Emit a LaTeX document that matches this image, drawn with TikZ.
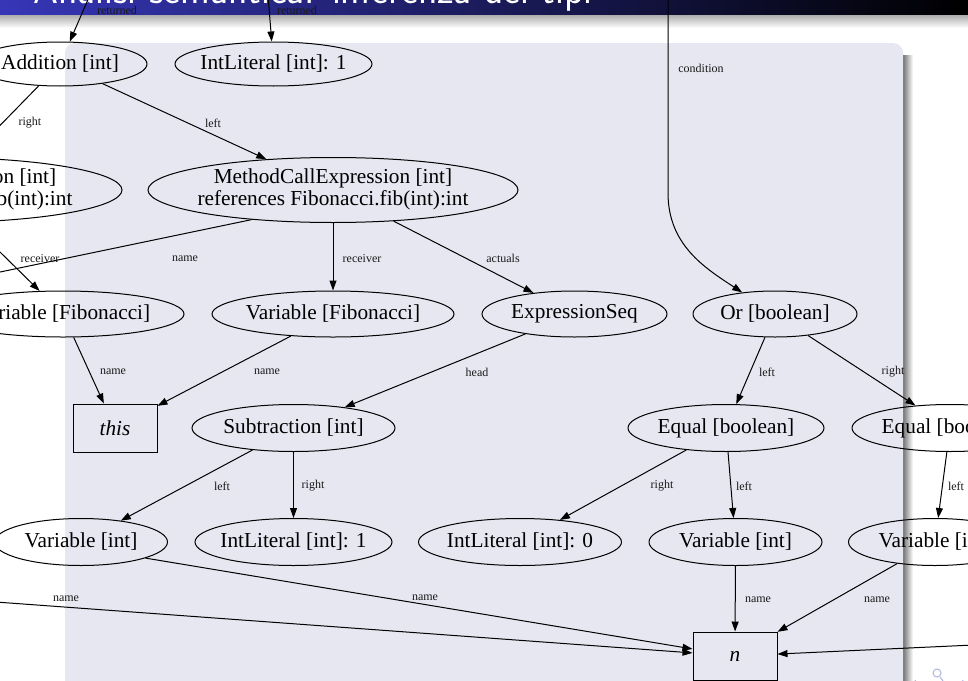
\documentclass[tikz,border=0pt]{standalone}
\usepackage{fontspec}
\setmainfont{Liberation Serif}
\usetikzlibrary{arrows.meta,shapes.geometric}

\definecolor{boxbg}{RGB}{231,231,242}
\definecolor{barblue}{RGB}{54,54,184}
\definecolor{navc}{RGB}{175,180,222}
\newcommand{\gvnodefont}{\fontsize{21.3}{22.5}\selectfont}
\newcommand{\gvlabfont}{\fontsize{12}{13}\selectfont}
\newcommand{\zt}[1]{\makebox[0pt]{#1}}
\newcommand{\mcetext}{\begin{tabular}{@{}c@{}}MethodCallExpression [int]\\references Fibonacci.fib(int):int\end{tabular}}

\begin{document}
\begin{tikzpicture}[x=1pt,y=-1pt,
  ell/.style={ellipse, draw, line width=1pt, inner sep=0pt, font=\gvnodefont},
  rbox/.style={rectangle, draw, line width=1pt, inner sep=0pt, minimum width=84pt, minimum height=48pt, font=\gvnodefont\itshape},
  edge/.style={draw, line width=1pt, -{Triangle[length=10pt,width=7pt]}},
  plain/.style={draw, line width=1pt},
  elab/.style={font=\gvlabfont, inner sep=0pt, text=black!90}
]
\useasboundingbox (0,0) rectangle (968,680);
\fill[white] (0,0) rectangle (968,680);

% slide decoration
\shade[left color=barblue, right color=black] (0,-1) rectangle (968,15);
\shade[top color=black!32, bottom color=white] (0,15) rectangle (968,28);
\shade[left color=black!55, right color=white] (903,55) rectangle (913,700);
\fill[boxbg, rounded corners=10pt] (65,43) rectangle (903,700);
\begin{scope}
  \clip (0,0) rectangle (968,15);
  \node[anchor=base west, text=white, font=\sffamily\fontsize{40}{40}\selectfont, inner sep=0pt] (title) at (33,3.5) {Analisi semantica: inferenza dei tipi};
\end{scope}

% navigation symbols
\begin{scope}[navc, line width=1pt]
  \draw (915,680) arc[start angle=180, end angle=20, radius=4.5];
  \draw (937,673) circle[radius=4];
  \draw (940,677) -- (943,681);
  \draw (963,680) arc[start angle=0, end angle=160, radius=4.5];
\end{scope}

% nodes
\node[ell, minimum width=174pt, minimum height=44pt] (add) at (60,64) {\zt{Addition [int]}};
\node[ell, minimum width=197pt, minimum height=44pt] (ilT) at (273.5,64) {\zt{IntLiteral [int]: 1}};
\node[ell, minimum width=370pt, minimum height=65pt] (mceL) at (-63,190) {\zt{\mcetext}};
\node[ell, minimum width=370pt, minimum height=65pt] (mceR) at (333,190) {\zt{\mcetext}};
\node[ell, minimum width=242pt, minimum height=46pt] (vfL) at (63,314) {\zt{Variable [Fibonacci]}};
\node[ell, minimum width=242pt, minimum height=46pt] (vfM) at (333,314) {\zt{Variable [Fibonacci]}};
\node[ell, minimum width=185pt, minimum height=46pt] (exps) at (574.5,314) {\zt{ExpressionSeq}};
\node[ell, minimum width=164pt, minimum height=46pt] (or) at (775,314) {\zt{Or [boolean]}};
\node[rbox] (this) at (115,428) {\zt{this}};
\node[ell, minimum width=203pt, minimum height=47pt] (sub) at (293.5,428) {\zt{Subtraction [int]}};
\node[ell, minimum width=196pt, minimum height=47pt] (eqM) at (726,428) {\zt{Equal [boolean]}};
\node[ell, minimum width=196pt, minimum height=47pt] (eqR) at (950,428) {\zt{Equal [boolean]}};
\node[ell, minimum width=173pt, minimum height=47pt] (viL) at (81,542) {\zt{Variable [int]}};
\node[ell, minimum width=197pt, minimum height=47pt] (ilL) at (293.5,542) {\zt{IntLiteral [int]: 1}};
\node[ell, minimum width=203pt, minimum height=47pt] (il0) at (520,542) {\zt{IntLiteral [int]: 0}};
\node[ell, minimum width=173pt, minimum height=47pt] (viM) at (735.5,542) {\zt{Variable [int]}};
\node[ell, minimum width=173pt, minimum height=47pt] (viR) at (935,542) {\zt{Variable [int]}};
\node[rbox] (n) at (735,656) {\zt{n}};

% free ends
\coordinate (retA) at (90,-5);
\coordinate (retB) at (268,-5);
\coordinate (condT) at (668,-5);
\coordinate (condB) at (668,193);
\coordinate (nameOff) at (-120,297);
\coordinate (leftOff) at (-100,595);
\coordinate (rightOff) at (1060,641);

% connectors
\draw[edge] (retA) -- (add);
\draw[edge] (retB) -- (ilT);
\draw[edge] (condT) -- (condB) .. controls (668,245) and (705,268) .. (or);
\draw[edge] (add) -- (mceL);
\draw[edge] (add) -- (mceR);
\draw[edge] (mceL) -- (vfL);
\draw[plain] (mceR.200) -- (nameOff);
\draw[edge] (mceR) -- (vfM);
\draw[edge] (mceR) -- (exps);
\draw[edge] (vfL) -- (this);
\draw[edge] (vfM) -- (this);
\draw[edge] (exps) -- (sub);
\draw[edge] (sub) -- (viL);
\draw[edge] (sub) -- (ilL);
\draw[edge] (or) -- (eqM);
\draw[edge] (or) -- (eqR);
\draw[edge] (eqM) -- (il0);
\draw[edge] (eqM) -- (viM);
\draw[edge] (eqR) -- (viR);
\draw[edge] (viL.-14) -- (n);
\draw[edge] (leftOff) -- (n);
\draw[edge] (viM) -- (n);
\draw[edge] (viR) -- (n);
\draw[edge] (rightOff) -- (n);

% edge labels
\node[elab] (l1) at (117,10) {returned};
\node[elab] (l2) at (297,10) {returned};
\node[elab] (l3) at (701,68) {condition};
\node[elab] (l4) at (30,123) {right};
\node[elab] (l5) at (213,123) {left};
\node[elab] (l6) at (40,259) {receiver};
\node[elab] (l7) at (185,259) {name};
\node[elab] (l8) at (362,259) {receiver};
\node[elab] (l9) at (503,258) {actuals};
\node[elab] (l10) at (113,372) {name};
\node[elab] (l11) at (267,372) {name};
\node[elab] (l12) at (477,372) {head};
\node[elab] (l13) at (767,372) {left};
\node[elab] (l14) at (893,372) {right};
\node[elab] (l15) at (222,486) {left};
\node[elab] (l16) at (313,486) {right};
\node[elab] (l17) at (662,486) {right};
\node[elab] (l18) at (744,486) {left};
\node[elab] (l19) at (956,486) {left};
\node[elab] (l20) at (66,599) {name};
\node[elab] (l21) at (425,598) {name};
\node[elab] (l22) at (758,600) {name};
\node[elab] (l23) at (877,600) {name};
\end{tikzpicture}
\end{document}
